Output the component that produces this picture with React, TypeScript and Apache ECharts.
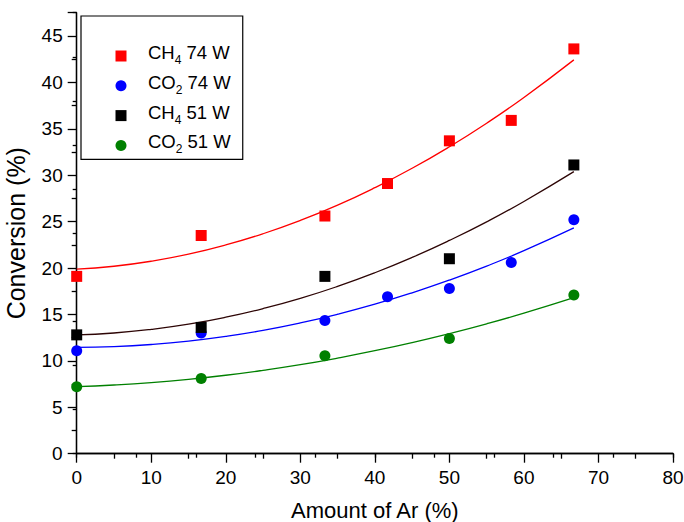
import React, { useEffect, useRef } from "react";
import * as echarts from "echarts";

const FONT = '"Liberation Sans", Arial, sans-serif';

// Measured points
const ch4_74_x = [0, 16.7, 33.3, 41.7, 50, 58.3, 66.7];
const ch4_74_y = [19.1, 23.5, 25.6, 29.1, 33.7, 35.9, 43.6];
const co2_74_x = [0, 16.7, 33.3, 41.7, 50, 58.3, 66.7];
const co2_74_y = [11.1, 13.0, 14.35, 16.9, 17.8, 20.6, 25.2];
const ch4_51_x = [0, 16.7, 33.3, 50, 66.7];
const ch4_51_y = [12.8, 13.6, 19.1, 21.0, 31.1];
const co2_51_x = [0, 16.7, 33.3, 50, 66.7];
const co2_51_y = [7.2, 8.1, 10.55, 12.4, 17.1];

// Fitted curves
const fitX = [0, 5, 10, 15, 20, 25, 30, 35, 40, 45, 50, 55, 60, 66.7];
const fitCh4_74 = [19.87, 20.19, 20.73, 21.49, 22.48, 23.69, 25.12, 26.77, 28.65, 30.74, 33.06, 35.6, 38.37, 42.42];
const fitCo2_74 = [11.46, 11.54, 11.76, 12.12, 12.63, 13.28, 14.08, 15.02, 16.1, 17.33, 18.7, 20.21, 21.87, 24.32];
const fitCh4_51 = [12.8, 13.0, 13.39, 13.95, 14.7, 15.63, 16.73, 18.02, 19.49, 21.14, 22.97, 24.97, 27.17, 30.38];
const fitCo2_51 = [7.22, 7.4, 7.66, 8.01, 8.45, 8.98, 9.59, 10.3, 11.09, 11.97, 12.94, 13.99, 15.14, 16.81];

const legendNames = ["CH4 74 W", "CO2 74 W", "CH4 51 W", "CO2 51 W"];
const legendRich: Record<string, string> = {
  "CH4 74 W": "{m|CH}{s|4}{m| 74 W}",
  "CO2 74 W": "{m|CO}{s|2}{m| 74 W}",
  "CH4 51 W": "{m|CH}{s|4}{m| 51 W}",
  "CO2 51 W": "{m|CO}{s|2}{m| 51 W}",
};

const xTicksMax = 80;
const yMax = 47.5;

const SQUARE = "path://M0,0H10V10H0Z";

const zip = (xs: number[], ys: number[]) => xs.map((x, i) => [x, ys[i]]);

export default function App() {
  const ref = useRef<HTMLDivElement>(null);
  useEffect(() => {
    document.body.style.margin = "0";
    document.body.style.overflow = "hidden";
    const chart = echarts.init(ref.current!, null, { renderer: "svg" });
    const axisLine = { show: true, lineStyle: { color: "#000", width: 1.3 } };
    const scatter = (name: string, xs: number[], ys: number[], color: string, symbol: string) => ({
      name,
      type: "scatter",
      data: zip(xs, ys),
      symbol,
      symbolSize: 11,
      itemStyle: { color, opacity: 1 },
      z: 3,
    });
    const fit = (name: string, ys: number[], color: string) => ({
      name,
      type: "line",
      data: zip(fitX, ys),
      showSymbol: false,
      smooth: true,
      lineStyle: { color, width: 1.3 },
      z: 2,
      silent: true,
    });
    chart.setOption({
      animation: false,
      backgroundColor: "#fff",
      textStyle: { fontFamily: FONT },
      grid: { left: 76.7, right: 11, top: 12.7, bottom: 68.3, containLabel: false, outerBoundsMode: "none" },
      legend: {
        data: [
          { name: legendNames[0], icon: SQUARE },
          { name: legendNames[1], icon: "circle" },
          { name: legendNames[2], icon: SQUARE },
          { name: legendNames[3], icon: "circle" },
        ],
        orient: "vertical",
        left: 81,
        top: 16,
        padding: [23, 12, 4, 34.5],
        itemWidth: 44,
        itemHeight: 11,
        itemGap: 2.8,
        symbolKeepAspect: true,
        borderColor: "#000",
        borderWidth: 1.2,
        backgroundColor: "#fff",
        formatter: (n: string) => legendRich[n],
        textStyle: {
          fontFamily: FONT,
          color: "#000",
          rich: {
            m: { fontSize: 18.5, fontFamily: FONT, color: "#000", lineHeight: 20, padding: [4, 0, 4, 0], verticalAlign: "bottom" },
            s: { fontSize: 12, fontFamily: FONT, color: "#000", lineHeight: 10, verticalAlign: "bottom" },
          },
        },
      },
      xAxis: [
        {
          type: "value",
          position: "bottom",
          min: 0,
          max: xTicksMax,
          interval: 10,
          name: "Amount of Ar (%)",
          nameLocation: "middle",
          nameGap: 45.5,
          nameTextStyle: { fontSize: 22, color: "#000", fontFamily: FONT },
          axisLine,
          axisTick: { show: true, inside: false, length: 9, lineStyle: { color: "#000", width: 1.3 } },
          minorTick: { show: true, splitNumber: 2, length: 5, lineStyle: { color: "#000", width: 1.3 } },
          splitLine: { show: false },
          axisLabel: { fontSize: 19, color: "#000", margin: 14, fontFamily: FONT },
        },
        {
          type: "value",
          position: "top",
          min: 0,
          max: 10,
          interval: 1,
          axisLine,
          axisTick: { show: true, inside: true, length: 4, lineStyle: { color: "#000", width: 1.3 } },
          axisLabel: { show: false },
          splitLine: { show: false },
        },
      ],
      yAxis: [
        {
          type: "value",
          position: "left",
          min: 0,
          max: yMax,
          interval: 5,
          name: "Conversion (%)",
          nameLocation: "middle",
          nameGap: 48,
          nameTextStyle: { fontSize: 25, color: "#000", fontFamily: FONT },
          axisLine,
          axisTick: { show: true, inside: false, length: 9, lineStyle: { color: "#000", width: 1.3 } },
          minorTick: { show: true, splitNumber: 2, length: 5, lineStyle: { color: "#000", width: 1.3 } },
          splitLine: { show: false },
          axisLabel: { fontSize: 19, color: "#000", margin: 14, fontFamily: FONT, showMaxLabel: false },
        },
        {
          type: "value",
          position: "right",
          min: 0,
          max: 10,
          interval: 1,
          axisLine,
          axisTick: { show: true, inside: true, length: 4, lineStyle: { color: "#000", width: 1.3 } },
          axisLabel: { show: false },
          splitLine: { show: false },
        },
      ],
      series: [
        fit("fit1", fitCh4_74, "#ff0000"),
        fit("fit2", fitCo2_74, "#0000ff"),
        fit("fit3", fitCh4_51, "#2d0505"),
        fit("fit4", fitCo2_51, "#008000"),
        scatter("CH4 74 W", ch4_74_x, ch4_74_y, "#ff0000", "rect"),
        scatter("CO2 74 W", co2_74_x, co2_74_y, "#0000ff", "circle"),
        scatter("CH4 51 W", ch4_51_x, ch4_51_y, "#000000", "rect"),
        scatter("CO2 51 W", co2_51_x, co2_51_y, "#008000", "circle"),
      ],
    });
    return () => chart.dispose();
  }, []);
  return <div ref={ref} style={{ width: 684, height: 522 }} />;
}
